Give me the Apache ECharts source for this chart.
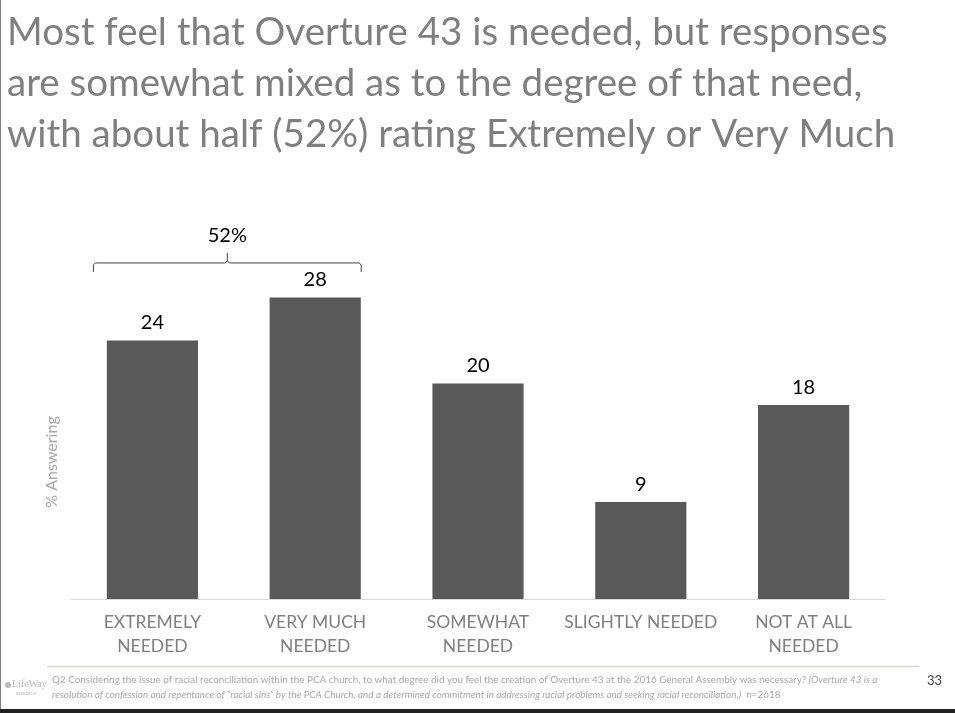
<!DOCTYPE html>
<html><head><meta charset="utf-8">
<script src="https://cdn.jsdelivr.net/npm/echarts@6/dist/echarts.min.js"></script>
<style>html,body{margin:0;padding:0;background:#fff}#c{width:955px;height:713px}</style>
</head><body><div id="c"></div>
<script>
const categories = ['EXTREMELY\nNEEDED', 'VERY MUCH\nNEEDED', 'SOMEWHAT\nNEEDED', 'SLIGHTLY NEEDED', 'NOT AT ALL\nNEEDED'];
const values = [24, 28, 20, 9, 18];
const bracketLabel = '52%';
const titleText = 'Most feel that Overture 43 is needed, but responses\nare somewhat mixed as to the degree of that need,\nwith about half (52%) rating Extremely or Very Much';
const yAxisName = '% Answering';

const chart = echarts.init(document.getElementById('c'), null, {renderer: 'canvas'});
const FONT = 'Lato, "Open Sans", sans-serif';
const option = {
  backgroundColor: '#fff',
  animation: false,
  title: {
    text: titleText,
    left: 2, top: 2,
    textStyle: {fontFamily: FONT, fontSize: 38.5, fontWeight: 'normal', color: '#7f7f7f', lineHeight: 51}
  },
  grid: {left: 71, right: 70, top: 222, bottom: 114, containLabel: false},
  xAxis: {
    type: 'category', data: categories,
    axisLine: {lineStyle: {color: '#d9d9d9', width: 1}},
    axisTick: {show: false},
    axisLabel: {fontFamily: FONT, fontSize: 17.5, color: '#7f7f7f', lineHeight: 24, margin: 11, interval: 0}
  },
  yAxis: {
    type: 'value', min: 0, max: 35,
    axisLine: {show: false}, axisTick: {show: false}, axisLabel: {show: false}, splitLine: {show: false}
  },
  series: [{
    type: 'bar', data: values, barWidth: '56%',
    itemStyle: {color: '#595959'},
    label: {show: true, position: 'top', distance: 8, fontFamily: FONT, fontSize: 20, color: '#000'}
  }]
};
chart.setOption(option);

const p0 = chart.convertToPixel({seriesIndex: 0}, [0, 31.2]);
const p1 = chart.convertToPixel({seriesIndex: 0}, [1, 31.2]);
const xl = p0[0] - 59, xr = p1[0] + 46, yb = p0[1];
const xm = (xl + xr) / 2;
const bstyle = {fill: null, stroke: '#404040', lineWidth: 1};
chart.setOption({
  graphic: [
    {type: 'polyline', shape: {points: [[xl, yb + 9], [xl, yb + 2], [xl + 2, yb], [xm - 2, yb], [xm, yb - 2], [xm, yb - 10]]}, style: bstyle},
    {type: 'polyline', shape: {points: [[xm, yb - 2], [xm + 2, yb], [xr - 2, yb], [xr, yb + 2], [xr, yb + 9]]}, style: bstyle},
    {type: 'text', x: xm, y: yb - 27, style: {text: bracketLabel, fontFamily: FONT, fontSize: 20, fill: '#000', align: 'center', verticalAlign: 'middle'}},
    {type: 'text', x: 52, y: 462, rotation: Math.PI / 2, style: {text: yAxisName, fontFamily: FONT, fontSize: 16, fill: '#a6a6a6', align: 'center', verticalAlign: 'middle'}},
    {type: 'line', shape: {x1: 47, y1: 666.5, x2: 919, y2: 666.5}, style: {stroke: '#d6d6c2', lineWidth: 1.5}},
    {type: 'text', x: 52, y: 672, style: {
      text: '{n|Q2 Considering the issue of racial reconciliation within the PCA church, to what degree did you feel the creation of Overture 43 at the 2016 General Assembly was necessary? }{i|(Overture 43 is a}\n{i|resolution of confession and repentance of \u201cracial sins\u201d by the PCA Church, and a determined commitment in addressing racial problems and seeking racial reconciliation.)}{n|  n=2618}',
      rich: {
        n: {fontFamily: FONT, fontSize: 9.9, fill: '#a6a6a6', lineHeight: 15},
        i: {fontFamily: FONT, fontSize: 9.9, fontStyle: 'italic', fill: '#a6a6a6', lineHeight: 15}
      }}},
    {type: 'text', x: 927, y: 674, style: {text: '33', fontFamily: FONT, fontSize: 13, fill: '#404040'}},
    {type: 'circle', shape: {cx: 8, cy: 685, r: 3}, style: {fill: '#b8b8b8'}},
    {type: 'text', x: 12, y: 679, style: {text: 'LifeWay', fontFamily: 'Liberation Serif, serif', fontSize: 10, fill: '#b8b8b8'}},
    {type: 'text', x: 16, y: 692, style: {text: 'RESEARCH', fontFamily: FONT, fontSize: 4, fill: '#b8b8b8'}},
    {type: 'rect', shape: {x: 0, y: 0, width: 1, height: 713}, style: {fill: '#7f7f7f'}},
    {type: 'rect', shape: {x: 0, y: 709, width: 955, height: 4}, style: {fill: '#222'}}
  ]
});
</script></body></html>
